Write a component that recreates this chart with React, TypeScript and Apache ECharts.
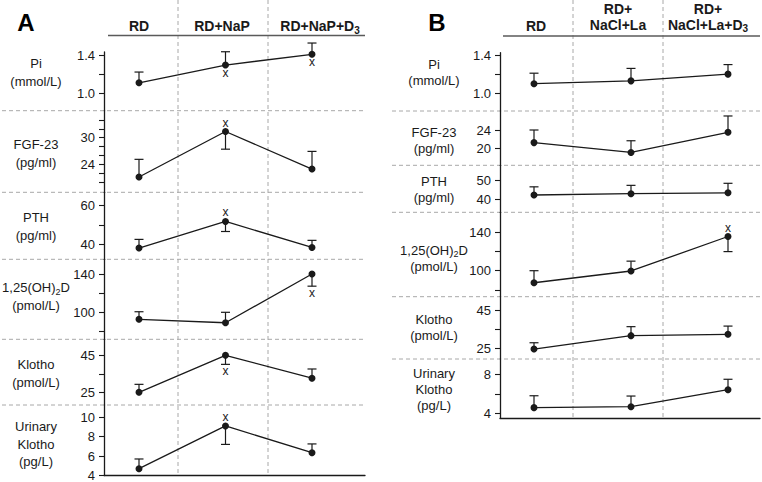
import React, { useEffect, useRef } from "react";
import * as echarts from "echarts";

// ---------- categories / labels (rich-text templates: {s|..} is a subscript) ----------
const headerA = ["RD", "RD+NaP", "RD+NaP+D{s|3}"];
const headerB = ["RD", "RD+\nNaCl+La", "RD+\nNaCl+La+D{s|3}"];
const rowTitles = ["Pi\n(mmol/L)", "FGF-23\n(pg/ml)", "PTH\n(pg/ml)", "1,25(OH){s|2}D\n(pmol/L)", "Klotho\n(pmol/L)", "Urinary\nKlotho\n(pg/L)"];

// ---------- panel A values (mean, error-bar tip, significance x: 1 above, -1 below) ----------
const piA = [1.11, 1.295, 1.407];
const piAErr = [1.222, 1.434, 1.525];
const piASig = [0, -1, -1];
const fgfA = [21.1, 31.4, 22.9];
const fgfAErr = [25.1, 27.4, 26.9];
const fgfASig = [0, 1, 0];
const pthA = [38.0, 51.8, 38.3];
const pthAErr = [42.5, 46.6, 42.0];
const pthASig = [0, 1, 0];
const vitdA = [92.6, 89.0, 140.3];
const vitdAErr = [100.6, 100.0, 127.5];
const vitdASig = [0, 0, -1];
const klothoA = [25.0, 45.0, 32.6];
const klothoAErr = [29.3, 40.1, 37.6];
const klothoASig = [0, -1, 0];
const uklA = [4.7, 9.1, 6.35];
const uklAErr = [5.7, 7.2, 7.25];
const uklASig = [0, 1, 0];

// ---------- panel B values ----------
const piB = [1.10, 1.13, 1.20];
const piBErr = [1.21, 1.26, 1.30];
const piBSig = [0, 0, 0];
const fgfB = [21.3, 19.2, 23.5];
const fgfBErr = [24.0, 21.7, 27.0];
const fgfBSig = [0, 0, 0];
const pthB = [42.3, 43.0, 43.5];
const pthBErr = [46.7, 47.5, 48.6];
const pthBSig = [0, 0, 0];
const vitdB = [87.4, 99.7, 135.8];
const vitdBErr = [100.0, 110.0, 120.0];
const vitdBSig = [0, 0, 1];
const klothoB = [24.6, 31.6, 32.3];
const klothoBErr = [27.9, 36.3, 36.6];
const klothoBSig = [0, 0, 0];
const uklB = [4.58, 4.68, 6.42];
const uklBErr = [5.8, 5.77, 7.49];
const uklBSig = [0, 0, 0];

// ---------- tick values ----------
const piTicks = [1.0, 1.2, 1.4];
const piLabels = [1.0, 1.4];
const fgfATicks = [20, 22, 24, 26, 28, 30, 32, 34];
const fgfALabels = [24, 30];
const pthATicks = [40, 50, 60];
const pthALabels = [40, 60];
const vitdTicks = [80, 100, 120, 140];
const vitdLabels = [100, 140];
const klothoTicks = [25, 35, 45];
const klothoLabels = [25, 45];
const uklATicks = [4, 6, 8, 10];
const uklALabels = [4, 6, 8, 10];
const fgfBTicks = [20, 24];
const fgfBLabels = [20, 24];
const pthBTicks = [40, 50];
const pthBLabels = [40, 50];
const uklBTicks = [4, 6, 8];
const uklBLabels = [4, 8];

const FONT = "'Liberation Sans', Arial, Helvetica, sans-serif";
const INK = "#1a1a1a";

type Row = {
  mean: number[]; err: number[]; sig: number[];
  ticks: number[]; labels: number[]; dec: number;
  cal: [number, number, number, number]; // v1,y1,v2,y2 (tick calibration)
  top: number; bottom: number;
};

function mk(mean: number[], err: number[], sig: number[], ticks: number[], labels: number[], dec: number,
  cal: [number, number, number, number], top: number, bottom: number): Row {
  return { mean, err, sig, ticks, labels, dec, cal, top, bottom };
}

const rowsA: Row[] = [
  mk(piA, piAErr, piASig, piTicks, piLabels, 1, [1.4, 55, 1.0, 93.3], 52, 110.7),
  mk(fgfA, fgfAErr, fgfASig, fgfATicks, fgfALabels, 0, [30, 137.7, 24, 164.2], 110.7, 192.3),
  mk(pthA, pthAErr, pthASig, pthATicks, pthALabels, 0, [60, 205.7, 40, 244.2], 192.3, 259.3),
  mk(vitdA, vitdAErr, vitdASig, vitdTicks, vitdLabels, 0, [140, 274.3, 100, 312.3], 259.3, 339.3),
  mk(klothoA, klothoAErr, klothoASig, klothoTicks, klothoLabels, 0, [45, 355.3, 25, 392.3], 339.3, 405),
  mk(uklA, uklAErr, uklASig, uklATicks, uklALabels, 0, [10, 417.3, 4, 476], 405, 476),
];
const rowsB: Row[] = [
  mk(piB, piBErr, piBSig, piTicks, piLabels, 1, [1.4, 55, 1.0, 93.3], 52.7, 111),
  mk(fgfB, fgfBErr, fgfBSig, fgfBTicks, fgfBLabels, 0, [24, 130, 20, 148.7], 111, 165.3),
  mk(pthB, pthBErr, pthBSig, pthBTicks, pthBLabels, 0, [50, 180.7, 40, 199.3], 165.3, 212.3),
  mk(vitdB, vitdBErr, vitdBSig, vitdTicks, vitdLabels, 0, [140, 232.5, 100, 270.7], 212.3, 296.7),
  mk(klothoB, klothoBErr, klothoBSig, klothoTicks, klothoLabels, 0, [45, 310, 25, 348.3], 296.7, 359),
  mk(uklB, uklBErr, uklBSig, uklBTicks, uklBLabels, 0, [8, 374.3, 4, 413.3], 359, 418.3),
];

type Panel = {
  rows: Row[]; axisX: number; rightX: number; x0: number; x2: number;
  titleX: number; titleY: number[]; titleLH: number;
};
const panelA: Panel = { rows: rowsA, axisX: 104, rightX: 365, x0: 139, x2: 312, titleX: 36, titleY: [72.5, 153.3, 226.5, 296.5, 373.7, 444], titleLH: 17.5 };
const panelB: Panel = { rows: rowsB, axisX: 500, rightX: 760, x0: 534, x2: 728, titleX: 434, titleY: [72.5, 140.3, 189.2, 258, 327.5, 389.5], titleLH: 16 };

function richText(size: number, lh: number, bold: boolean) {
  const w = bold ? "bold" : "normal";
  return {
    fontSize: size, lineHeight: lh, fontWeight: w, fill: INK, fontFamily: FONT,
    rich: {
      s: { fontSize: size - 4, lineHeight: lh - 8, verticalAlign: "bottom", fontWeight: w, fill: INK, fontFamily: FONT },
    },
  };
}

function buildOption() {
  const grid: any[] = [];
  const xAxis: any[] = [];
  const yAxis: any[] = [];
  const series: any[] = [];
  const graphic: any[] = [];

  [panelA, panelB].forEach((P) => {
    const unit = (P.x2 - P.x0) / 2;
    const xmin = -(P.x0 - P.axisX) / unit;
    const xmax = 2 + (P.rightX - P.x2) / unit;
    P.rows.forEach((r, ri) => {
      const gi = grid.length;
      const [v1, y1, v2, y2] = r.cal;
      const ppu = (y2 - y1) / (v1 - v2);
      const ymax = v1 + (y1 - r.top) / ppu;
      const ymin = v2 - (r.bottom - y2) / ppu;
      const last = ri === P.rows.length - 1;
      grid.push({ left: P.axisX, top: r.top, width: P.rightX - P.axisX, height: r.bottom - r.top, containLabel: false });
      xAxis.push({
        gridIndex: gi, type: "value", min: xmin, max: xmax, position: "bottom",
        axisLine: { show: last, onZero: false, lineStyle: { color: INK, width: 1.3 } },
        axisTick: { show: false }, axisLabel: { show: false }, splitLine: { show: false },
      });
      yAxis.push({
        gridIndex: gi, type: "value", min: ymin, max: ymax, z: 10,
        axisLine: { show: true, onZero: false, lineStyle: { color: INK, width: 1.3 } },
        axisTick: { show: true, length: 5, customValues: r.ticks, lineStyle: { color: INK, width: 1.1 } },
        axisLabel: {
          show: true, customValues: r.labels, margin: 9, fontSize: 13, color: INK, fontFamily: FONT,
          formatter: ((d: number) => (v: number) => v.toFixed(d))(r.dec),
        },
        splitLine: { show: false },
      });
      const errData = r.mean.map((m, i) => [i, m, r.err[i], r.sig[i]]);
      series.push({
        type: "custom", xAxisIndex: gi, yAxisIndex: gi, data: errData, z: 3,
        renderItem: (_p: any, api: any) => {
          const x = api.value(0), m = api.value(1), e = api.value(2), s = api.value(3);
          const p = api.coord([x, m]);
          const q = api.coord([x, e]);
          const children: any[] = [
            { type: "line", shape: { x1: p[0], y1: p[1], x2: q[0], y2: q[1] }, style: { stroke: INK, lineWidth: 1.2 } },
            { type: "line", shape: { x1: q[0] - 4.5, y1: q[1], x2: q[0] + 4.5, y2: q[1] }, style: { stroke: INK, lineWidth: 1.2 } },
          ];
          if (s !== 0) {
            const errUp = q[1] < p[1];
            let ty: number;
            if (s > 0) ty = errUp ? q[1] - 7 : p[1] - 9;
            else ty = !errUp ? q[1] + 7 : p[1] + 8;
            children.push({
              type: "text",
              style: { text: "x", x: p[0], y: ty, align: "center", verticalAlign: "middle", fontSize: 12, fill: INK, fontFamily: FONT },
            });
          }
          return { type: "group", children };
        },
      });
      series.push({
        type: "line", xAxisIndex: gi, yAxisIndex: gi, z: 4,
        data: r.mean.map((m, i) => [i, m]),
        symbol: "circle", symbolSize: 7, showSymbol: true,
        itemStyle: { color: INK },
        lineStyle: { color: INK, width: 1.3 },
        emphasis: { disabled: true }, silent: true,
      });
      graphic.push({
        type: "text", x: P.titleX, y: P.titleY[ri], z: 5,
        style: { text: rowTitles[ri], align: "center", verticalAlign: "middle", ...richText(13, P.titleLH, false) },
      });
    });
  });

  const dash = { stroke: "#a8a8a8", lineWidth: 1, lineDash: [4, 3] };
  // horizontal separators
  [110.7, 192.3, 259.3, 339.3, 405].forEach((y) =>
    graphic.push({ type: "line", z: 0, shape: { x1: 2, y1: y, x2: 365, y2: y }, style: dash }));
  [111, 165.3, 212.3, 296.7, 359].forEach((y) =>
    graphic.push({ type: "line", z: 0, shape: { x1: 392, y1: y, x2: 760, y2: y }, style: dash }));
  // vertical separators
  [178, 268].forEach((x) =>
    graphic.push({ type: "line", z: 0, shape: { x1: x, y1: 0, x2: x, y2: 476 }, style: dash }));
  [573, 663].forEach((x) =>
    graphic.push({ type: "line", z: 0, shape: { x1: x, y1: 0, x2: x, y2: 418 }, style: dash }));
  // header rules
  graphic.push({ type: "line", z: 5, shape: { x1: 108, y1: 35.5, x2: 365, y2: 35.5 }, style: { stroke: "#5a5a5a", lineWidth: 1.3 } });
  graphic.push({ type: "line", z: 5, shape: { x1: 503, y1: 36, x2: 760, y2: 36 }, style: { stroke: "#5a5a5a", lineWidth: 1.3 } });
  // panel letters
  graphic.push({ type: "text", z: 5, x: 26, y: 22, style: { text: "A", align: "center", verticalAlign: "middle", fontSize: 24, fontWeight: "bold", fill: "#000", fontFamily: FONT } });
  graphic.push({ type: "text", z: 5, x: 437, y: 22, style: { text: "B", align: "center", verticalAlign: "middle", fontSize: 24, fontWeight: "bold", fill: "#000", fontFamily: FONT } });
  // headers
  const hA = [139, 222, 320];
  headerA.forEach((t, i) => graphic.push({ type: "text", z: 5, x: hA[i], y: 26, style: { text: t, align: "center", verticalAlign: "middle", ...richText(14, 18, true) } }));
  const hB = [536, 618, 708];
  headerB.forEach((t, i) => graphic.push({ type: "text", z: 5, x: hB[i], y: i === 0 ? 26 : 17, style: { text: t, align: "center", verticalAlign: "middle", ...richText(14, 16, true) } }));

  return { animation: false, backgroundColor: "#ffffff", grid, xAxis, yAxis, series, graphic };
}

export default function App() {
  const ref = useRef<HTMLDivElement>(null);
  useEffect(() => {
    if (!ref.current) return;
    const chart = echarts.init(ref.current, undefined, { renderer: "svg" });
    chart.setOption(buildOption() as any);
    return () => chart.dispose();
  }, []);
  return <div ref={ref} style={{ position: "fixed", left: 0, top: 0, width: 762, height: 482, background: "#fff" }} />;
}
